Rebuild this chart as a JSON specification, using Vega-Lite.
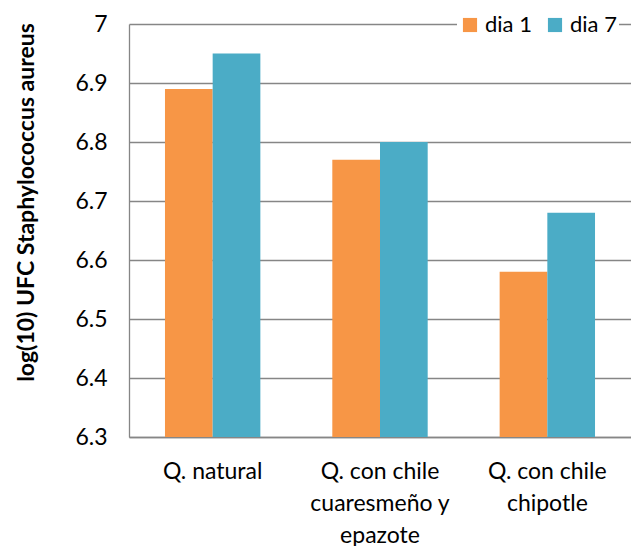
{
  "$schema": "https://vega.github.io/schema/vega-lite/v6.json",
  "autosize": {"type": "none"},
  "width": 502,
  "height": 413,
  "padding": {"left": 129, "top": 24, "right": 0, "bottom": 109},
  "background": "white",
  "data": {
    "values": [
      {"queso": "Q. natural", "dia": "dia 1", "log_ufc": 6.89},
      {"queso": "Q. natural", "dia": "dia 7", "log_ufc": 6.95},
      {"queso": "Q. con chile cuaresmeño y epazote", "dia": "dia 1", "log_ufc": 6.77},
      {"queso": "Q. con chile cuaresmeño y epazote", "dia": "dia 7", "log_ufc": 6.80},
      {"queso": "Q. con chile chipotle", "dia": "dia 1", "log_ufc": 6.58},
      {"queso": "Q. con chile chipotle", "dia": "dia 7", "log_ufc": 6.68}
    ]
  },
  "mark": {"type": "bar", "clip": true},
  "encoding": {
    "x": {
      "field": "queso",
      "type": "nominal",
      "sort": null,
      "scale": {"paddingInner": 0.43, "paddingOuter": 0.215},
      "axis": {
        "title": null,
        "labelAngle": 0,
        "labelFont": "Lato",
        "labelFontSize": 23,
        "labelColor": "#000000",
        "labelPadding": 34,
        "labelLineHeight": 32,
        "labelBaseline": "middle",
        "labelExpr": "datum.value == 'Q. con chile cuaresmeño y epazote' ? ['Q. con chile', 'cuaresmeño y', 'epazote'] : datum.value == 'Q. con chile chipotle' ? ['Q. con chile', 'chipotle'] : datum.value",
        "ticks": false,
        "domainColor": "#868686",
        "domainWidth": 1.3,
        "grid": false
      }
    },
    "xOffset": {"field": "dia", "type": "nominal", "scale": {"paddingInner": 0, "paddingOuter": 0}},
    "y": {
      "field": "log_ufc",
      "type": "quantitative",
      "scale": {"domain": [6.3, 7], "zero": false, "nice": false},
      "axis": {
        "title": "log(10) UFC Staphylococcus aureus",
        "titleFont": "Lato",
        "titleFontSize": 23,
        "titleFontWeight": "bold",
        "titleColor": "#000000",
        "titleX": -103,
        "titleY": 178,
        "titleAngle": -90,
        "titleAlign": "center",
        "titleBaseline": "middle",
        "values": [6.3, 6.4, 6.5, 6.6, 6.7, 6.8, 6.9, 7],
        "format": ".1~f",
        "labelFont": "Lato",
        "labelFontSize": 23,
        "labelColor": "#000000",
        "labelPadding": 22,
        "ticks": false,
        "domainColor": "#868686",
        "domainWidth": 1.3,
        "grid": true,
        "gridColor": "#868686",
        "gridWidth": 1.3
      }
    },
    "color": {
      "field": "dia",
      "type": "nominal",
      "scale": {"domain": ["dia 1", "dia 7"], "range": ["#F79646", "#4BACC6"]},
      "legend": {
        "title": null,
        "orient": "none",
        "legendX": 328,
        "legendY": -12,
        "direction": "horizontal",
        "fillColor": "white",
        "padding": 2,
        "symbolType": "square",
        "symbolSize": 200,
        "symbolStrokeWidth": 0,
        "labelFont": "Lato",
        "labelFontSize": 22,
        "labelColor": "#000000",
        "labelOffset": 4,
        "columnPadding": 12
      }
    }
  },
  "config": {"view": {"stroke": null}}
}
